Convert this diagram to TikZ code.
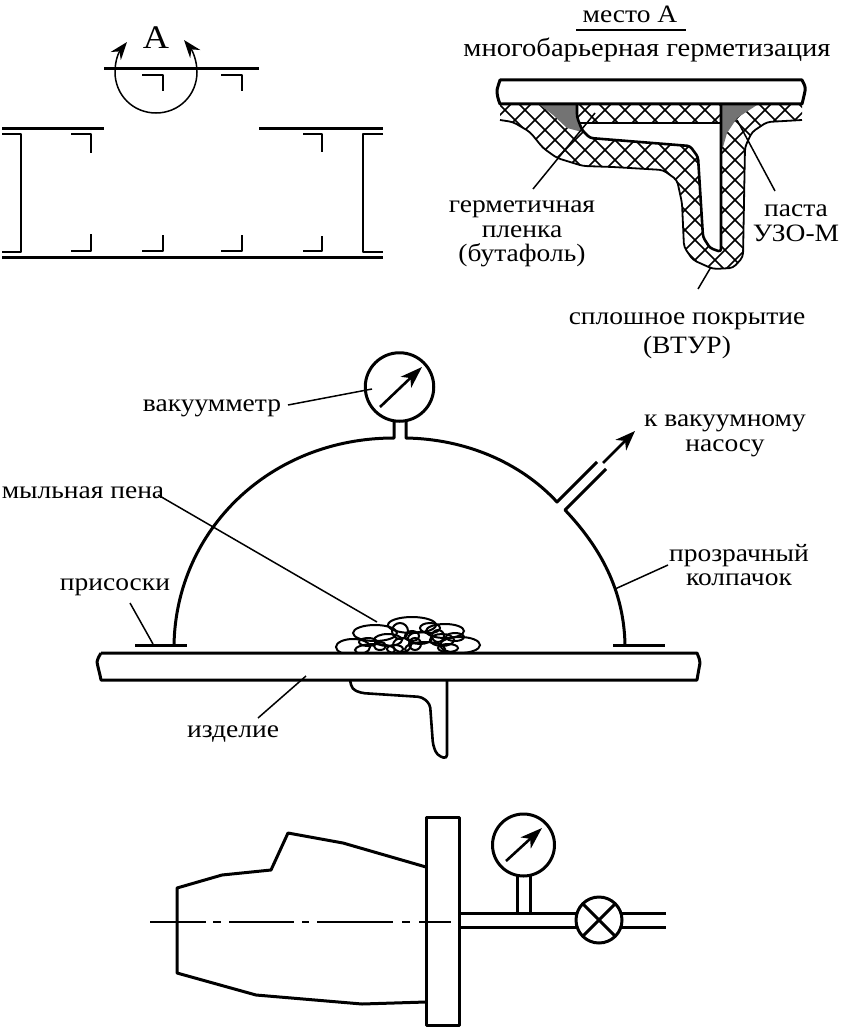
\documentclass[tikz,border=0pt]{standalone}
\usepackage{fontspec}
\setmainfont[FakeStretch=1.1]{Liberation Serif}
\usetikzlibrary{arrows.meta}
\tikzset{
 x=1pt,y=-1pt,
 thick line/.style={line width=3pt,line join=round},
 med line/.style={line width=2.6pt,line join=round},
 thin line/.style={line width=1.5pt},
 hatch/.style={line width=1.5pt},
 txt/.style={font=\fontsize{25}{24.5}\selectfont,inner sep=0pt,align=center,text=black},
 leaf/.style={line width=1.8pt},
 needle/.style={line width=2.6pt,-{Stealth[length=22pt,width=15pt,inset=6pt]}},
}
\begin{document}
\begin{tikzpicture}
\useasboundingbox (0,0) rectangle (847,1030);
\fill[white] (0,0) rectangle (847,1030);
% ---------- top left
\draw[thick line] (104,69) -- (259,69);
\draw[thick line] (2,129) -- (104,129) (259,129) -- (383,129);
\draw[thick line] (2,257) -- (383,257);
\draw[med line] (2,134) -- (21,134) -- (21,252) -- (2,252);
\draw[med line] (383,134) -- (363,134) -- (363,252) -- (383,252);
\draw[med line] (142,75) -- (163,75) -- (163,91);
\draw[med line] (221,75) -- (242,75) -- (242,91);
\draw[med line] (71,134) -- (91,134) -- (91,153);
\draw[med line] (303,134) -- (322,134) -- (322,152);
\draw[med line] (71,251) -- (91,251) -- (91,234);
\draw[med line] (142,251) -- (163,251) -- (163,235);
\draw[med line] (221,251) -- (242,251) -- (242,235);
\draw[med line] (303,251) -- (322,251) -- (322,236);
\draw[thin line,{Stealth[length=18pt,width=13pt,inset=6pt]}-{Stealth[length=18pt,width=13pt,inset=6pt]}] (127,42) .. controls (119,52) and (115,60) .. (115,72) .. controls (115,95) and (133,113) .. (156,113) .. controls (179,113) and (197,95) .. (197,72) .. controls (197,60) and (192,50) .. (184,40);
\node[txt,font=\fontsize{33}{33}\selectfont] (labA) at (156,38) {А};
% ---------- top right titles
\node[txt] (mesto) at (630,14) {место А};
\coordinate (ml) at (576,30); \coordinate (mr) at (686,30);
\draw[line width=1.8pt] (ml) -- (mr);
\node[txt,font=\fontsize{26}{26}\selectfont] (multi) at (647,50) {многобарьерная герметизация};
% ---------- seal detail
\begin{scope}
\clip (500,105) -- (802,105) -- (802,120) -- (767,122) -- (752,132) -- (745,147) -- (743,257) -- (733,268) -- (713,269) -- (693,260) -- (684,247) -- (682,203) -- (677,180) -- (663,170) -- (613,167) -- (583,166) -- (557,158) -- (543,148) -- (530,132) -- (513,122) -- (500,120) -- cycle;
\foreach \i in {-300,-280,...,500} {
 \draw[hatch] (495+\i,100) -- (695+\i,300);
 \draw[hatch] (695+\i,100) -- (495+\i,300);
}
\end{scope}
% air gap / T flange
\fill[white] (580,123) -- (721,123) -- (721,252) -- (710,248) -- (703,237) -- (698,157) -- (690,146) -- (590,138) -- (582,130) -- cycle;
% paste
\fill[black!55] (540,105) -- (577,105) -- (577,117) -- (582,132) -- (567,128) -- (553,115) -- cycle;
\fill[black!55] (721,105) -- (757,105) -- (737,118) -- (727,133) -- (723,147) -- (721,147) -- cycle;
\draw[med line,rounded corners=3pt] (577,105) -- (577,117) -- (582,130) -- (590,138) -- (690,146) -- (698,157) -- (703,237) -- (710,248) -- (721,252) -- (721,105);
\draw[med line] (580,123) -- (721,123);
\draw[leaf,rounded corners=4pt] (500,120) -- (513,122) -- (530,132) -- (543,148) -- (557,158) -- (583,166) -- (613,167) -- (663,170) -- (677,180) -- (682,203) -- (684,247) -- (693,260) -- (713,269) -- (733,268) -- (743,257) -- (745,147) -- (752,132) -- (767,122) -- (802,120);
\draw[thick line,fill=white] (500,80) -- (802,80) .. controls (804,84) and (806,87) .. (805,91) .. controls (804,96) and (803,100) .. (802,104) -- (500,104) .. controls (498,99) and (497,95) .. (497,90) .. controls (498,86) and (499,83) .. (500,80) -- cycle;
\node[txt] (germ) at (522,234) {герметичная\\пленка\\(бутафоль)};
\node[txt] (pasta) at (796,223) {паста\\УЗО-М};
\node[txt] (spl) at (687,336) {сплошное покрытие\\[4pt](ВТУР)};
\coordinate (gl) at (533,189); \coordinate (ge) at (595,113);
\draw[thin line] (gl) -- (ge);
\coordinate (pl) at (775,191); \coordinate (pe) at (737,120);
\draw[thin line] (pl) -- (pe);
\coordinate (sl) at (698,289); \coordinate (se) at (711,267);
\draw[thin line] (sl) -- (se);
% ---------- middle
\draw[thick line] (174,645) .. controls (176,530) and (270,438) .. (394,438) -- (394,422);
\draw[thick line] (406,422) -- (406,438) .. controls (465,439) and (520,462) .. (557,502) -- (597,462);
\draw[thick line] (606,469) -- (565,510) .. controls (600,547) and (624,590) .. (625,645);
\draw[thick line] (135,645) -- (187,645);
\draw[thick line] (613,645) -- (665,645);
\draw[thick line] (101,653) -- (697,653) .. controls (699,658) and (700,660) .. (700,663) .. controls (699,668) and (698,674) .. (697,680) -- (101,680) .. controls (100,674) and (98,668) .. (97,662) .. controls (98,658) and (99,656) .. (101,653);
\node[circle,draw,line width=3pt,minimum size=68.5pt,inner sep=0pt] (gauge) at (399.5,387) {};
\draw[needle] (380,407) -- (422,367);
\coordinate (pump) at (635,431); \coordinate (pumpb) at (603,463);
\draw[line width=2.6pt,-{Stealth[length=20pt,width=15pt,inset=6pt]}] (pumpb) -- (pump);
\node[txt] (kv) at (725,436) {к вакуумному\\насосу};
\node[txt] (vac) at (212,408) {вакуумметр};
\coordinate (a1) at (288,405); \coordinate (a2) at (372,389);
\draw[thin line] (a1) -- (a2);
\node[txt] (soap) at (83,493) {мыльная пена};
\coordinate (s1) at (158,495); \coordinate (s2) at (377,622);
\draw[thin line] (s1) -- (s2);
\node[txt] (pris) at (115,587) {присоски};
\coordinate (p1) at (130,603); \coordinate (p2) at (153,644);
\draw[thin line] (p1) -- (p2);
\node[txt] (proz) at (739,565) {прозрачный\\колпачок};
\coordinate (c1) at (668,565); \coordinate (c2) at (615,589);
\draw[thin line] (c1) -- (c2);
\node[txt] (izd) at (233,734) {изделие};
\coordinate (i1) at (258,718); \coordinate (i2) at (306,676);
\draw[thin line] (i1) -- (i2);
% foam
\begin{scope}[line width=2pt]
\clip (320,600) rectangle (490,652);
\foreach \x/\y/\a/\b in {353/647/17/8, 375/633/22/8, 412/625/24/8, 445/631/19/7, 460/645/20/8, 375/650/20/6, 425/649/20/7, 400/631/8/8, 388/640/14/6, 420/638/12/6, 442/640/12/6, 402/645/9/7, 430/628/10/5, 395/649/8/4, 448/648/10/4, 412/636/7/5, 368/642/9/4, 438/636/6/6, 380/646/6/4, 415/644/6/6, 455/637/9/4} {
 \draw (\x,\y) ellipse[x radius=\a,y radius=\b];
}
\end{scope}
% tee
\draw[med line,rounded corners=4pt] (350,680) -- (352,689) -- (361,693) -- (422,697) -- (430,704) -- (433,745) -- (437,755) -- (447,759) -- (447,680);
% ---------- bottom
\draw[thick line] (426,817) rectangle (459,1025);
\draw[thick line] (426,867) -- (343,843) -- (288,833) -- (271,870) -- (222,875) -- (177,888) -- (177,973) -- (256,995) -- (362,1004) -- (426,1002);
\draw[line width=1.8pt,dash pattern=on 56pt off 7pt on 8pt off 8pt on 65pt off 8pt on 7pt off 8pt on 76pt off 9pt on 8pt off 9pt on 40pt] (150,922) -- (451,922);
\draw[thick line] (459,913) -- (577,913) (459,927) -- (577,927);
\draw[thick line] (621,913) -- (666,913) (621,927) -- (666,927);
\node[circle,draw,line width=3pt,minimum size=46pt,inner sep=0pt] (valve) at (599,920) {};
\draw[thick line] (583,904) -- (615,936) (583,936) -- (615,904);
\draw[thick line] (517,875) -- (517,913) (530,875) -- (530,913);
\node[circle,draw,line width=3pt,minimum size=62pt,inner sep=0pt] (g2) at (523.5,845) {};
\draw[needle] (506,861) -- (542,828);
\end{tikzpicture}
\end{document}
